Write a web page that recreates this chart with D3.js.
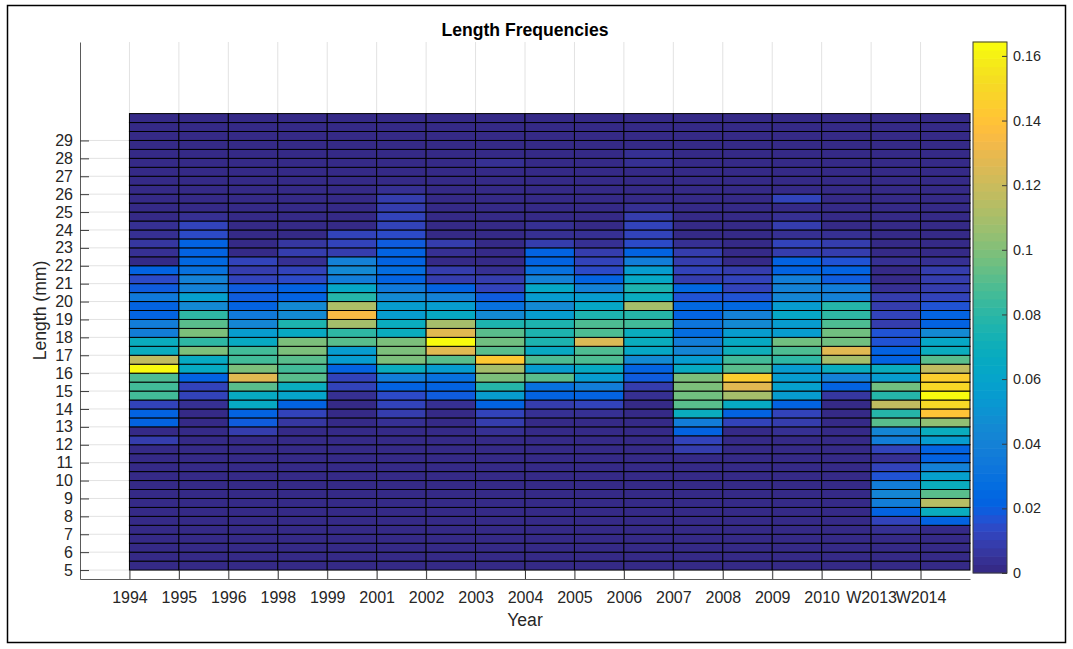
<!DOCTYPE html>
<html>
<head>
<meta charset="utf-8">
<script src="https://cdn.jsdelivr.net/npm/d3@7"></script>
<style>
  html, body { margin: 0; padding: 0; background: #fff; }
  svg { display: block; font-family: "Liberation Sans", Arial, Helvetica, sans-serif; }
</style>
</head>
<body>
<svg id="chart" width="1073" height="649"></svg>
<script>
// ---- data ---------------------------------------------------------------
const years = ["1994", "1995", "1996", "1998", "1999", "2001", "2002", "2003", "2004",
               "2005", "2006", "2007", "2008", "2009", "2010", "W2013", "W2014"];

// lower edge (mm) of each 0.5 mm length bin: 5.0, 5.5, ... 30.0
const lengthBins = d3.range(51).map(k => 5 + 0.5 * k);
const lengthTicks = d3.range(5, 30);
const colorTicks = [0, 0.02, 0.04, 0.06, 0.08, 0.1, 0.12, 0.14, 0.16];

// relative frequency per length bin, listed from 5.0 mm upwards
const freq1994 = [0,0,0,0,0,0,0,0,0,0,
  0,0,0,0.001,0.008,0.002,0.022,0.022,0.012,0.085,
  0.085,0.088,0.1643,0.118,0.068,0.068,0.038,0.038,0.022,0.022,
  0.035,0.02,0.015,0.022,0.002,0.005,0.006,0.005,0.004,0.002,
  0.001,0.001,0.001,0.001,0.001,0.001,0.001,0.001,0.001,0.001,0.001];
const freq1995 = [0,0,0,0,0,0,0,0,0,0,
  0,0,0,0,0,0,0,0.001,0.004,0.012,
  0.012,0.022,0.065,0.065,0.1,0.08,0.1,0.09,0.08,0.045,
  0.058,0.04,0.04,0.03,0.025,0.022,0.022,0.014,0.012,0.004,
  0.001,0.001,0.001,0.001,0.001,0.001,0.001,0.001,0.001,0.001,0.001];
const freq1996 = [0,0,0,0,0,0,0,0,0,0,
  0,0,0,0,0,0.01,0.018,0.022,0.066,0.066,
  0.09,0.128,0.1,0.085,0.085,0.065,0.055,0.042,0.035,0.022,
  0.018,0.018,0.012,0.01,0.012,0.002,0.002,0.001,0.001,0.001,
  0.001,0.001,0.001,0.001,0.001,0.001,0.001,0.001,0.001,0.001,0.001];
const freq1998 = [0,0,0,0,0,0,0,0,0,0,
  0,0,0,0,0,0,0.006,0.012,0.022,0.06,
  0.068,0.09,0.085,0.09,0.1,0.1,0.065,0.075,0.045,0.045,
  0.022,0.022,0.014,0.012,0.004,0.008,0.006,0,0.002,0.002,
  0.002,0.002,0.002,0.002,0.002,0.002,0.002,0.002,0.002,0.002,0.002];
const freq1999 = [0,0,0,0,0,0,0,0,0,0,
  0,0,0,0,0,0,0,0,0,0.004,
  0.012,0.012,0.022,0.055,0.055,0.09,0.082,0.108,0.135,0.112,
  0.078,0.062,0.038,0.045,0.04,0.01,0.012,0.012,0.002,0.002,
  0.002,0.002,0.002,0.002,0.002,0.002,0.002,0.002,0.002,0.002,0.002];
const freq2001 = [0,0,0,0,0,0,0,0,0,0,
  0,0,0,0,0,0,0.004,0.01,0.012,0.013,
  0.022,0.036,0.068,0.1,0.1,0.1,0.068,0.068,0.055,0.055,
  0.045,0.035,0.022,0.026,0.022,0.022,0.02,0.015,0.012,0.012,
  0.008,0.008,0.004,0.001,0.001,0.001,0.001,0.001,0.001,0.001,0.001];
const freq2002 = [0,0,0,0,0,0,0,0,0,0,
  0,0,0,0,0,0,0,0,0.004,0.018,
  0.022,0.03,0.055,0.09,0.128,0.163,0.128,0.108,0.065,0.055,
  0.04,0.022,0.01,0.01,0.002,0.004,0.01,0.002,0.002,0.002,
  0.002,0.002,0.002,0.002,0.002,0.002,0.002,0.002,0.002,0.002,0.002];
const freq2003 = [0,0,0,0,0,0,0,0,0,0,
  0,0,0,0,0,0.004,0.008,0.012,0.022,0.055,
  0.078,0.1,0.11,0.142,0.09,0.095,0.09,0.075,0.045,0.03,
  0.02,0.012,0.009,0.004,0.001,0.001,0.001,0.001,0.001,0.001,
  0.001,0.001,0.001,0.001,0.001,0.004,0.001,0.001,0.001,0.001,0.001];
const freq2004 = [0,0,0,0,0,0,0,0,0,0,
  0,0,0,0,0,0,0,0.004,0.01,0.022,
  0.03,0.092,0.055,0.088,0.065,0.075,0.075,0.075,0.055,0.045,
  0.055,0.062,0.04,0.03,0.022,0.022,0.01,0.004,0.004,0.001,
  0.001,0.001,0.001,0.001,0.001,0.001,0.001,0.001,0.001,0.001,0.001];
const freq2005 = [0,0,0,0,0,0,0,0,0,0,
  0,0,0,0,0,0,0,0.004,0.012,0.022,
  0.038,0.055,0.065,0.088,0.088,0.125,0.088,0.088,0.075,0.062,
  0.055,0.04,0.022,0.015,0.012,0.009,0.005,0.004,0.002,0.002,
  0.002,0.002,0.002,0.002,0.002,0.002,0.002,0.002,0.002,0.002,0.002];
const freq2006 = [0,0,0,0,0,0,0,0,0,0,
  0,0,0,0,0,0,0,0,0,0.004,
  0.01,0.02,0.022,0.045,0.062,0.068,0.068,0.085,0.078,0.108,
  0.068,0.075,0.062,0.055,0.036,0.022,0.014,0.012,0.012,0.01,
  0.004,0.002,0.002,0.002,0.002,0.003,0.003,0.001,0.001,0.001,0.001];
const freq2007 = [0,0,0,0,0,0,0,0,0,0,
  0,0,0,0.01,0.012,0.022,0.038,0.068,0.09,0.095,
  0.098,0.098,0.065,0.055,0.042,0.038,0.026,0.032,0.022,0.025,
  0.016,0.025,0.01,0.012,0.009,0.009,0.004,0.001,0.001,0.001,
  0.001,0.001,0.001,0.001,0.001,0.001,0.001,0.001,0.001,0.001,0.001];
const freq2008 = [0,0,0,0,0,0,0,0,0,0,
  0,0,0,0,0,0.002,0.012,0.022,0.065,0.11,
  0.128,0.145,0.09,0.085,0.07,0.065,0.055,0.045,0.04,0.025,
  0.016,0.012,0.012,0.01,0,0.001,0.001,0.001,0.001,0.001,
  0.001,0.001,0.001,0.001,0.001,0.001,0.001,0.001,0.001,0.001,0.001];
const freq2009 = [0,0,0,0,0,0,0,0,0,0,
  0,0,0,0,0,0.005,0.01,0.012,0.022,0.055,
  0.058,0.055,0.055,0.082,0.088,0.095,0.055,0.055,0.062,0.055,
  0.042,0.04,0.036,0.022,0.022,0.01,0.012,0.004,0.01,0.004,
  0.002,0.011,0.001,0.001,0.001,0.001,0.001,0.001,0.001,0.001,0.001];
const freq2010 = [0,0,0,0,0,0,0,0,0,0,
  0,0,0,0,0,0,0,0,0.001,0.006,
  0.022,0.04,0.068,0.11,0.128,0.095,0.095,0.088,0.082,0.078,
  0.04,0.036,0.02,0.022,0.016,0.01,0.01,0.004,0.001,0.001,
  0.001,0.001,0.001,0.001,0.001,0.001,0.001,0.001,0.001,0.001,0.001];
const freqW2013 = [0,0,0,0,0.004,0.012,0.022,0.038,0.042,0.038,
  0.016,0.012,0.004,0.012,0.038,0.042,0.09,0.078,0.118,0.078,
  0.095,0.055,0.068,0.022,0.022,0.016,0.016,0.01,0.012,0.01,
  0.009,0.004,0.002,0,0.003,0.001,0.001,0.001,0.001,0.001,
  0.001,0.001,0.001,0.001,0.001,0.001,0.001,0.001,0.001,0.001,0.001];
const freqW2014 = [0,0,0,0,0.002,0.022,0.068,0.115,0.09,0.068,
  0.058,0.04,0.022,0.022,0.055,0.068,0.105,0.14,0.15,0.1643,
  0.15,0.145,0.118,0.09,0.068,0.062,0.045,0.022,0.022,0.016,
  0.012,0.009,0.009,0.009,0.004,0.001,0.001,0.001,0.001,0.001,
  0.001,0.001,0.001,0.001,0.001,0.001,0.001,0.001,0.001,0.001,0.001];

const frequencies = [freq1994, freq1995, freq1996, freq1998, freq1999, freq2001, freq2002,
  freq2003, freq2004, freq2005, freq2006, freq2007, freq2008, freq2009, freq2010,
  freqW2013, freqW2014];

// 64-step parula colormap
const parulaRGB = [
  [0.2081,0.1663,0.5292],[0.2116,0.1898,0.5777],[0.2123,0.2138,0.6270],[0.2081,0.2386,0.6771],
  [0.1959,0.2645,0.7279],[0.1707,0.2919,0.7792],[0.1253,0.3242,0.8303],[0.0591,0.3598,0.8683],
  [0.0117,0.3875,0.8820],[0.0060,0.4086,0.8828],[0.0165,0.4266,0.8786],[0.0329,0.4430,0.8720],
  [0.0498,0.4586,0.8641],[0.0629,0.4737,0.8554],[0.0723,0.4887,0.8467],[0.0779,0.5040,0.8384],
  [0.0793,0.5200,0.8312],[0.0749,0.5375,0.8263],[0.0641,0.5570,0.8240],[0.0488,0.5772,0.8228],
  [0.0343,0.5966,0.8199],[0.0265,0.6137,0.8135],[0.0239,0.6287,0.8038],[0.0231,0.6418,0.7913],
  [0.0228,0.6535,0.7768],[0.0267,0.6642,0.7607],[0.0384,0.6743,0.7436],[0.0590,0.6838,0.7254],
  [0.0843,0.6928,0.7062],[0.1133,0.7015,0.6859],[0.1453,0.7098,0.6646],[0.1801,0.7177,0.6424],
  [0.2178,0.7250,0.6193],[0.2586,0.7317,0.5954],[0.3022,0.7376,0.5712],[0.3482,0.7424,0.5473],
  [0.3953,0.7459,0.5244],[0.4420,0.7481,0.5033],[0.4871,0.7491,0.4840],[0.5300,0.7491,0.4661],
  [0.5709,0.7485,0.4494],[0.6099,0.7473,0.4337],[0.6473,0.7456,0.4188],[0.6834,0.7435,0.4044],
  [0.7184,0.7411,0.3905],[0.7525,0.7384,0.3768],[0.7858,0.7356,0.3633],[0.8185,0.7327,0.3498],
  [0.8507,0.7299,0.3360],[0.8824,0.7274,0.3217],[0.9139,0.7258,0.3063],[0.9450,0.7261,0.2886],
  [0.9739,0.7314,0.2666],[0.9938,0.7455,0.2403],[0.9990,0.7653,0.2164],[0.9955,0.7861,0.1967],
  [0.9880,0.8066,0.1794],[0.9789,0.8271,0.1633],[0.9697,0.8481,0.1475],[0.9626,0.8705,0.1309],
  [0.9589,0.8949,0.1132],[0.9598,0.9218,0.0948],[0.9661,0.9514,0.0755],[0.9763,0.9831,0.0538]
];
const parula = parulaRGB.map(c => d3.rgb(c[0] * 255, c[1] * 255, c[2] * 255).formatHex());

// ---- layout -------------------------------------------------------------
const W = 1073, H = 649;
const plot = { left: 80, right: 970, top: 42, bottom: 579 };
const bar = { left: 973, right: 1007, top: 42, bottom: 573 };
const textColor = "#262626";

const svg = d3.select("#chart");

// figure frame
svg.append("rect")
  .attr("x", 7.5).attr("y", 5.5)
  .attr("width", W - 15).attr("height", H - 12)
  .attr("fill", "#fff").attr("stroke", "#000").attr("stroke-width", 1.5);

const x = d3.scaleLinear().domain([0, years.length + 1]).range([plot.left, plot.right]);
const y = d3.scaleLinear().domain([4.5, 34.5]).range([plot.bottom, plot.top]);

const cmax = d3.max(frequencies, col => d3.max(col));
const color = d3.scaleQuantize().domain([0, cmax]).range(parula);

// grid lines
const grid = svg.append("g").attr("stroke", "#e2e2e2").attr("stroke-width", 1);
grid.selectAll("line.gx").data(d3.range(1, years.length + 1)).join("line")
  .attr("x1", d => x(d)).attr("x2", d => x(d))
  .attr("y1", plot.top).attr("y2", plot.bottom);
grid.selectAll("line.gy").data(lengthTicks).join("line")
  .attr("x1", plot.left).attr("x2", plot.right)
  .attr("y1", d => y(d)).attr("y2", d => y(d));

// heat-map cells
const cells = [];
frequencies.forEach((col, j) => {
  col.forEach((v, k) => cells.push({ j, L: lengthBins[k], v }));
});
svg.append("g").selectAll("rect").data(cells).join("rect")
  .attr("x", d => x(d.j + 1))
  .attr("width", d => x(d.j + 2) - x(d.j + 1))
  .attr("y", d => y(d.L + 0.5))
  .attr("height", d => y(d.L) - y(d.L + 0.5))
  .attr("fill", d => color(d.v))
  .attr("stroke", "#000")
  .attr("stroke-width", 1);

// axes
const yAxis = d3.axisLeft(y).tickValues(lengthTicks).tickSize(-9).tickSizeOuter(0).tickPadding(7);
const gy = svg.append("g").attr("transform", `translate(${plot.left},0)`).call(yAxis);

const xAxis = d3.axisBottom(x).tickValues(d3.range(1, years.length + 1))
  .tickFormat((d, i) => years[i]).tickSize(-9).tickSizeOuter(0).tickPadding(13);
const gx = svg.append("g").attr("transform", `translate(0,${plot.bottom})`).call(xAxis);

[gx, gy].forEach(g => {
  g.select(".domain").attr("stroke", "#5a5a5a").attr("stroke-width", 1);
  g.selectAll(".tick line").attr("stroke", "#3a3a3a").attr("stroke-width", 1);
  g.selectAll(".tick text").attr("fill", textColor).style("font-size", "16px")
    .style("font-family", "'Liberation Sans', Arial, sans-serif");
});

// titles
svg.append("text")
  .attr("x", (plot.left + plot.right) / 2).attr("y", 36)
  .attr("text-anchor", "middle").attr("fill", "#000")
  .style("font-size", "17.6px").style("font-weight", "bold")
  .text("Length Frequencies");

svg.append("text")
  .attr("x", (plot.left + plot.right) / 2).attr("y", 626)
  .attr("text-anchor", "middle").attr("fill", textColor)
  .style("font-size", "17.6px")
  .text("Year");

svg.append("text")
  .attr("transform", `translate(46,${(plot.top + plot.bottom) / 2}) rotate(-90)`)
  .attr("text-anchor", "middle").attr("fill", textColor)
  .style("font-size", "17.6px")
  .text("Length (mm)");

// colour bar
const c = d3.scaleLinear().domain([0, cmax]).range([bar.bottom, bar.top]);
const bands = d3.range(parula.length);
const step = cmax / parula.length;
svg.append("g").selectAll("rect").data(bands).join("rect")
  .attr("x", bar.left)
  .attr("width", bar.right - bar.left)
  .attr("y", i => c((i + 1) * step) - 0.3)
  .attr("height", i => c(i * step) - c((i + 1) * step) + 0.6)
  .attr("fill", i => parula[i]);

svg.append("rect")
  .attr("x", bar.left).attr("y", bar.top)
  .attr("width", bar.right - bar.left).attr("height", bar.bottom - bar.top)
  .attr("fill", "none").attr("stroke", "#3a3a3a").attr("stroke-width", 1);

const cAxis = d3.axisRight(c).tickValues(colorTicks).tickSize(-5).tickSizeOuter(0).tickPadding(6)
  .tickFormat(d => String(+d.toFixed(2)));
const gc = svg.append("g").attr("transform", `translate(${bar.right},0)`).call(cAxis);
gc.select(".domain").remove();
gc.selectAll(".tick line").attr("stroke", "#3a3a3a");
gc.selectAll(".tick text").attr("fill", textColor).style("font-size", "14.4px")
  .style("font-family", "'Liberation Sans', Arial, sans-serif");
</script>
</body>
</html>
